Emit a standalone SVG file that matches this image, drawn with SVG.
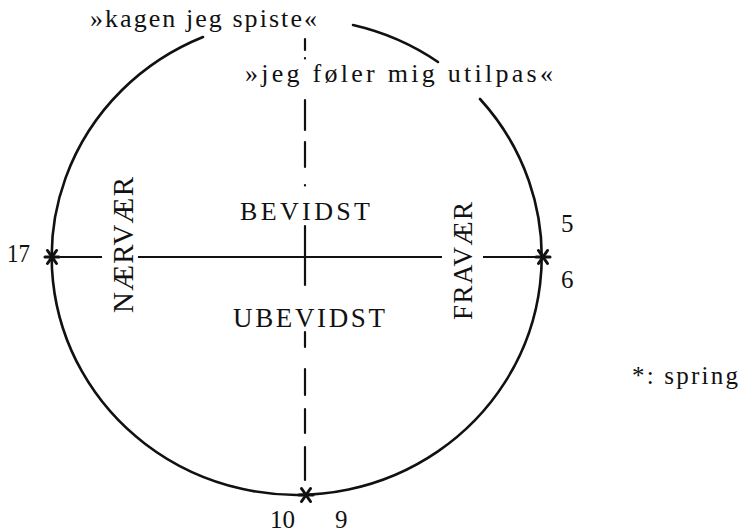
<svg xmlns="http://www.w3.org/2000/svg" width="745" height="532" viewBox="0 0 745 532">
<style>
  .t { font-family: "Liberation Serif", "Times New Roman", serif; fill: #111; }
  .circle { fill: none; stroke: #111; stroke-width: 2.6; stroke-linecap: round; }
  .axis { fill: none; stroke: #111; stroke-width: 1.8; }
  .dash { fill: none; stroke: #111; stroke-width: 2.2; stroke-linecap: round; }
  .star { fill: none; stroke: #111; stroke-width: 3; stroke-linecap: round; }
</style>
<defs>
  <g id="asterisk">
    <line x1="-7" y1="0" x2="7" y2="0"/>
    <line x1="-4.5" y1="-6.5" x2="4.5" y2="6.5"/>
    <line x1="-4.5" y1="6.5" x2="4.5" y2="-6.5"/>
  </g>
</defs>
<rect width="745" height="532" fill="#fff"/>

<g id="connectors">
  <path class="circle" d="M203,37 A245,238 0 1 0 480,99"/>
  <path class="circle" d="M353,25 A245,238 0 0 1 438,62"/>
  <g class="axis">
    <line x1="52" y1="257" x2="102" y2="257"/>
    <line x1="138" y1="257" x2="442" y2="257"/>
    <line x1="483" y1="257" x2="543" y2="257"/>
  </g>
  <g class="dash">
    <line x1="305" y1="39" x2="305" y2="50"/>
    <line x1="305" y1="58" x2="305" y2="58.5"/>
    <line x1="305" y1="100" x2="305" y2="130"/>
    <line x1="305" y1="142" x2="305" y2="167"/>
    <line x1="305" y1="185" x2="305" y2="185.5"/>
    <line x1="305" y1="226" x2="305" y2="285"/>
    <line x1="305" y1="332" x2="305" y2="347"/>
    <line x1="305" y1="369" x2="305" y2="395"/>
    <line x1="305" y1="409" x2="305" y2="433"/>
    <line x1="305" y1="447" x2="305" y2="480"/>
  </g>
</g>

<g id="node-17">
  <use href="#asterisk" class="star" x="52" y="257"/>
  <text class="t" x="7" y="262" font-size="25" textLength="23" lengthAdjust="spacingAndGlyphs">17</text>
</g>
<g id="node-5-6">
  <use href="#asterisk" class="star" x="543" y="257"/>
  <text class="t" x="561" y="232" font-size="25">5</text>
  <text class="t" x="561" y="288" font-size="25">6</text>
</g>
<g id="node-10-9">
  <use href="#asterisk" class="star" x="306" y="495"/>
  <text class="t" x="270" y="528" font-size="25">10</text>
  <text class="t" x="335" y="528" font-size="25">9</text>
</g>

<g id="label-kagen">
  <text class="t" x="90" y="27" font-size="26" textLength="227" lengthAdjust="spacing">»kagen jeg spiste«</text>
</g>
<g id="label-utilpas">
  <text class="t" x="245" y="82" font-size="26" textLength="308" lengthAdjust="spacing">»jeg føler mig utilpas«</text>
</g>
<g id="label-bevidst">
  <text class="t" x="240" y="220" font-size="26" textLength="130" lengthAdjust="spacing">BEVIDST</text>
</g>
<g id="label-ubevidst">
  <text class="t" x="233" y="327" font-size="27" textLength="152" lengthAdjust="spacing">UBEVIDST</text>
</g>
<g id="label-naervaer">
  <text class="t" transform="translate(133,313) rotate(-90)" x="0" y="0" font-size="29" textLength="136" lengthAdjust="spacing">NÆRVÆR</text>
</g>
<g id="label-fravaer">
  <text class="t" transform="translate(472,320) rotate(-90)" x="0" y="0" font-size="27" textLength="118" lengthAdjust="spacing">FRAVÆR</text>
</g>
<g id="legend">
  <text class="t" x="632" y="384" font-size="25" textLength="106" lengthAdjust="spacing">*: spring</text>
</g>
</svg>
